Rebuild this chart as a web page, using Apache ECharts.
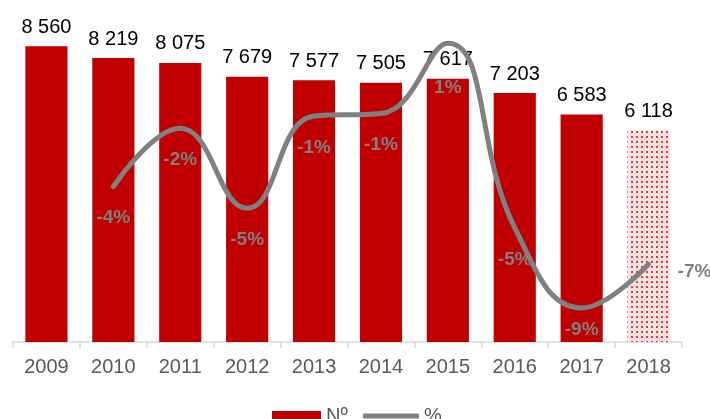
<!DOCTYPE html>
<html><head><meta charset="utf-8">
<script src="https://cdn.jsdelivr.net/npm/echarts@6/dist/echarts.min.js"></script>
<style>html,body{margin:0;padding:0;background:#fff}#c{width:710px;height:419px}</style>
</head><body><div id="c"></div>
<script>
const years = ['2009','2010','2011','2012','2013','2014','2015','2016','2017','2018'];
const counts = [8560, 8219, 8075, 7679, 7577, 7505, 7617, 7203, 6583, 6118];
const pct = [null, -4.0, -1.6, -4.9, -1.1, -1.0, 1.9, -5.7, -9.0, -7.2];
const pctLabels = ['', '-4%', '-2%', '-5%', '-1%', '-1%', '1%', '-5%', '-9%', '-7%'];

const pc = document.createElement('canvas');
pc.width = 5; pc.height = 5;
const g = pc.getContext('2d');
g.fillStyle = '#fbe3e3'; g.fillRect(0,0,5,5);
g.fillStyle = '#e23a3a'; g.fillRect(1,1,2,2);

const fmt = v => String(v).replace(/\B(?=(\d{3})+(?!\d))/g, ' ');
const labelOverrides = {6: {distance: 35}, 8: {distance: 12}, 9: {position: 'right', distance: 29, offset: [0, 8]}};

const chart = echarts.init(document.getElementById('c'), null, {renderer:'canvas'});
chart.setOption({
  animation: false,
  textStyle: {fontFamily: 'Liberation Sans, Arial, sans-serif'},
  grid: {left: 13, right: 28, top: 31, bottom: 77},
  legend: [
    {left: 267, top: 401, itemWidth: 49, itemHeight: 10, itemGap: 0,
     textStyle: {fontSize: 20, color: '#595959'},
     data: [{name: 'Nº', icon: 'rect'}]},
    {left: 358, top: 401, itemWidth: 56, itemHeight: 5, itemGap: 0,
     textStyle: {fontSize: 20, color: '#595959'},
     data: [{name: '%', icon: 'roundRect'}]}
  ],
  xAxis: {
    type: 'category', data: years,
    axisLine: {lineStyle: {color: '#d9d9d9', width: 1.5}},
    axisTick: {show: true, length: 6, lineStyle: {color: '#d9d9d9', width: 1.5}},
    axisLabel: {fontSize: 20, color: '#595959', margin: 15}
  },
  yAxis: [
    {type: 'value', min: 0, max: 9000, show: false, splitLine: {show: false}},
    {type: 'value', min: -10.4, max: 2.4, show: false, splitLine: {show: false}}
  ],
  series: [
    {
      name: 'Nº', type: 'bar', barCategoryGap: '37%',
      data: counts.map((v, i) => i === counts.length - 1
        ? {value: v, itemStyle: {color: {image: pc, repeat: 'repeat'}}}
        : v),
      itemStyle: {color: '#c00000'},
      label: {show: true, position: 'top', distance: 9, fontSize: 20, color: '#000',
        formatter: p => fmt(p.value)}
    },
    {
      name: '%', type: 'line', yAxisIndex: 1, smooth: 0.45,
      symbol: 'circle', symbolSize: 0.1, showSymbol: true,
      data: pct.map((v, i) => ({value: v, label: labelOverrides[i] || {}})),
      lineStyle: {color: '#808080', width: 5, cap: 'round'},
      itemStyle: {color: '#808080'},
      label: {show: true, position: 'bottom', distance: 22, fontSize: 19, fontWeight: 'bold',
        color: '#808080', formatter: p => pctLabels[p.dataIndex]}
    }
  ]
});
</script></body></html>
